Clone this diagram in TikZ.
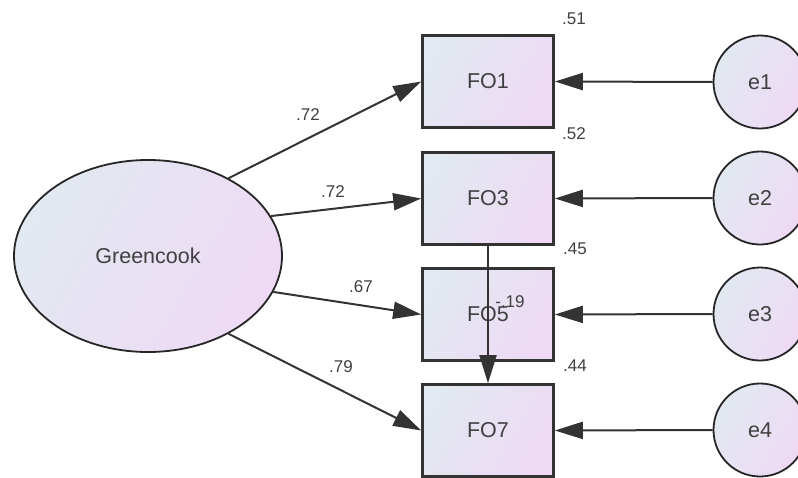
\documentclass[tikz,border=0pt]{standalone}
\usepackage{fontspec}
\setmainfont{Liberation Sans}
\usetikzlibrary{shapes.geometric,arrows.meta}
\definecolor{fillL}{HTML}{E2E9F0}
\definecolor{fillR}{HTML}{EEDAF5}
\definecolor{ink}{HTML}{333333}
\definecolor{txt}{HTML}{404040}
\begin{document}
\begin{tikzpicture}[x=1pt,y=-1pt,
  obs/.style={draw=ink,line width=2.6pt,left color=fillL,right color=fillR,shading angle=60,
    minimum width=131pt,minimum height=92pt,inner sep=0pt,text=txt,font=\fontsize{21.5}{24}\selectfont},
  err/.style={circle,draw=black!85,line width=1.8pt,left color=fillL,right color=fillR,shading angle=60,
    minimum size=93pt,inner sep=0pt,text=txt,font=\fontsize{21.5}{24}\selectfont},
  lat/.style={ellipse,draw=black!85,line width=1.8pt,left color=fillL,right color=fillR,shading angle=60,
    minimum width=268pt,minimum height=192pt,inner sep=0pt,text=txt,font=\fontsize{21.5}{24}\selectfont},
  path/.style={draw=ink,line width=2pt,-{Triangle[length=28pt,width=17pt]}},
  est/.style={text=txt,font=\fontsize{17}{20}\selectfont,inner sep=0pt}]
\useasboundingbox (0,0) rectangle (798,477);
\fill[white] (0,0) rectangle (798,477);
% latent variable
\node[lat] (gc) at (148,256) {Greencook};
% indicators
\node[obs] (fo1) at (488,81.5) {FO1};
\node[obs] (fo3) at (488,198.5) {FO3};
\node[obs] (fo5) at (488,314.5) {FO5};
\node[obs] (fo7) at (488,430.5) {FO7};
% errors
\node[err] (e1) at (760,82) {e1};
\node[err] (e2) at (760,198) {e2};
\node[err] (e3) at (760,314) {e3};
\node[err] (e4) at (760,430) {e4};
% loadings
\draw[path] (gc.44) -- (fo1.west);
\draw[path] (gc.18) -- (fo3.west);
\draw[path] (gc.-16) -- (fo5.west);
\draw[path] (gc.-44) -- (fo7.west);
\foreach \i/\f in {1/1,2/3,3/5,4/7}
  \draw[path] (e\i.west) -- (fo\f.east);
\draw[path] (fo3.south) -- (fo7.north);
% estimates
\node[est] (l1) at (308,115) {.72};
\node[est] (l2) at (333,192) {.72};
\node[est] (l3) at (361,287) {.67};
\node[est] (l4) at (341,367) {.79};
\node[est] (r1) at (574,19) {.51};
\node[est] (r2) at (574,134) {.52};
\node[est] (r3) at (575,249) {.45};
\node[est] (r4) at (575,366) {.44};
\node[est] (cv) at (510,302) {-.19};
\end{tikzpicture}
\end{document}
